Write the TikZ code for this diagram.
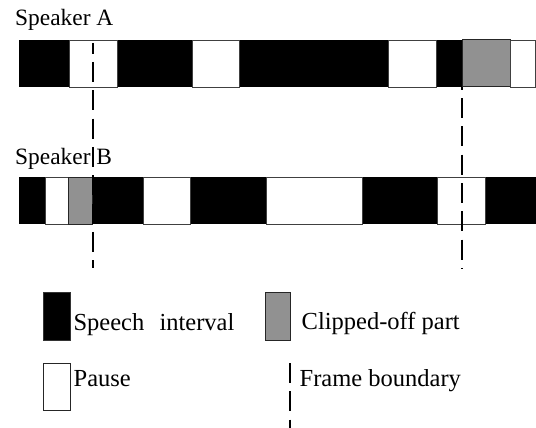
\documentclass[tikz,border=0pt]{standalone}
\usepackage{fontspec}
\setmainfont{Liberation Serif}
\newfontfamily\lblfont{Liberation Serif}
\definecolor{clipgray}{RGB}{145,145,145}
\begin{document}
\begin{tikzpicture}[x=1pt,y=-1pt,
  lbl/.style={font=\lblfont\fontsize{24.5}{29}\selectfont, inner sep=0pt, anchor=base west},
  trackname/.style={lbl, font=\lblfont\fontsize{23.4}{28}\selectfont},
  speech/.style={fill=black},
  pausebox/.style={fill=white, draw=black!75, line width=0.8pt},
  clipbox/.style={fill=clipgray, draw=black!85, line width=1pt},
  frameline/.style={line width=2pt, dash pattern=on 20pt off 8.3pt},
]
\useasboundingbox (0,0) rectangle (536,428);

% ---- Speaker A track
\node[trackname] (spkA) at (15,26) {Speaker A};
\fill[speech] (18.5,40) rectangle (535.5,87);
\draw[pausebox] (69.4,40) rectangle (117.3,87);
\draw[pausebox] (192.5,40) rectangle (239.3,87);
\draw[pausebox] (388.7,40) rectangle (435.9,87);
\draw[clipbox] (462.2,40) rectangle (510,87);
\draw[pausebox] (510.5,40) rectangle (535,87);

% ---- Speaker B track
\node[trackname] (spkB) at (15,164.2) {Speaker B};
\fill[speech] (18.5,177) rectangle (536,224);
\draw[pausebox] (45.1,177) rectangle (68.4,224);
\draw[clipbox] (68.4,177) rectangle (92.3,224);
\draw[pausebox] (142.9,177) rectangle (190.8,224);
\draw[pausebox] (266,177) rectangle (362.4,224);
\draw[pausebox] (437.6,177) rectangle (485.5,224);

% ---- frame boundaries
\coordinate (f1top) at (93,43);
\coordinate (f1bot) at (93,268);
\coordinate (f2top) at (461.5,87);
\coordinate (f2bot) at (461.5,269);
\draw[frameline, dash phase=9.3pt] (f1top) -- (f1bot);
\draw[frameline, dash phase=17.2pt] (f2top) -- (f2bot);

% ---- legend
\draw[fill=black, draw=black!80, line width=0.8pt] (43.8,292.2) rectangle (70.1,340.8);
\node[lbl] (lspeech) at (73.4,330) {Speech\hspace{0.62em}interval};
\draw[clipbox] (265,292.2) rectangle (290.6,340.8);
\node[lbl] (lclip) at (301.5,329.5) {Clipped-off part};
\draw[pausebox, draw=black!85, line width=1pt] (43.8,363) rectangle (70.1,410.9);
\node[lbl] (lpause) at (73.5,386.5) {Pause};
\coordinate (lftop) at (290,363);
\coordinate (lfbot) at (290,428);
\draw[frameline] (lftop) -- (lfbot);
\node[lbl] (lframe) at (299.5,386.5) {Frame boundary};
\end{tikzpicture}
\end{document}
